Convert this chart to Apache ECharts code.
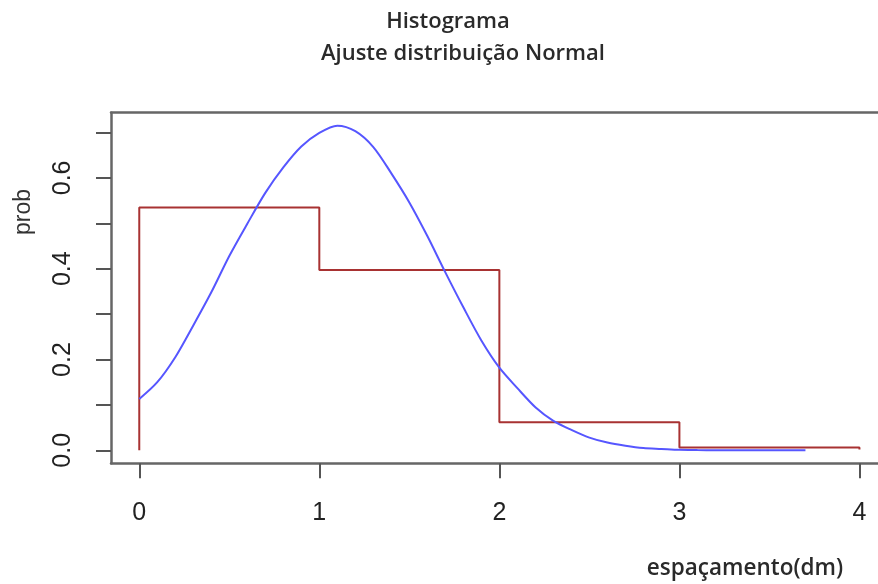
<!DOCTYPE html>
<html>
<head>
<meta charset="utf-8">
<script src="https://cdn.jsdelivr.net/npm/echarts@6/dist/echarts.min.js"></script>
<style>
  html, body { margin: 0; padding: 0; background: #ffffff; }
  #chart { width: 878px; height: 584px; }
</style>
</head>
<body>
<div id="chart"></div>
<script>
// Histogram class breaks (dm) and the density of each class
const breaks = [0, 1, 2, 3, 4];
const density = [0.535, 0.397, 0.062, 0.006];

// Fitted normal density curve, sampled along the spacing axis
const curveX = [0, 0.1, 0.2, 0.3, 0.4, 0.5, 0.6, 0.7, 0.8, 0.9, 1.0, 1.1, 1.2, 1.3, 1.4, 1.5,
                1.6, 1.7, 1.8, 1.9, 2.0, 2.1, 2.2, 2.3, 2.4, 2.5, 2.6, 2.7, 2.8, 2.9, 3.0,
                3.1, 3.2, 3.3, 3.4, 3.5, 3.6, 3.7];
const curveY = [0.113, 0.150, 0.205, 0.275, 0.348, 0.428, 0.499, 0.567, 0.623, 0.669, 0.699, 0.715,
                0.703, 0.668, 0.610, 0.546, 0.472, 0.392, 0.315, 0.242, 0.182, 0.137, 0.095, 0.065,
                0.045, 0.028, 0.017, 0.010, 0.005, 0.003, 0.001, 0.0005, 0.0002, 0.0001, 0, 0, 0, 0];

// Axis ticks and labels
const xTicks = [0, 1, 2, 3, 4];
const yTicks = [0, 0.1, 0.2, 0.3, 0.4, 0.5, 0.6, 0.7];
const yLabels = [0, 0.2, 0.4, 0.6];

// Step outline of the histogram built from the breaks and densities
const stepPts = [[breaks[0], 0]];
density.forEach((d, i) => {
  stepPts.push([breaks[i], d]);
  stepPts.push([breaks[i + 1], d]);
});
stepPts.push([breaks[breaks.length - 1], 0.002]);

const curvePts = curveX.map((x, i) => [x, curveY[i]]);

const labelFont = 'Liberation Sans, Arial, sans-serif';
const textFont = 'Open Sans, sans-serif';
const frame = { color: '#666', width: 2.5 };
const tickStyle = { color: '#555', width: 2 };

const chart = echarts.init(document.getElementById('chart'), null, { renderer: 'canvas' });
chart.setOption({
  animation: false,
  backgroundColor: '#ffffff',
  title: [
    { text: 'Histograma', left: 443, top: 6, textAlign: 'center',
      textStyle: { fontFamily: textFont, fontSize: 22, fontWeight: 600, color: '#2a2a2a' } },
    { text: 'Ajuste distribuição Normal', left: 458, top: 38, textAlign: 'center',
      textStyle: { fontFamily: textFont, fontSize: 22, fontWeight: 600, color: '#2a2a2a' } }
  ],
  graphic: [
    { type: 'text', x: 24, y: 212, rotation: Math.PI / 2,
      style: { text: 'prob', fontFamily: labelFont, fontSize: 23, fill: '#333',
               align: 'center', verticalAlign: 'middle' } },
    { type: 'text', x: 745, y: 569,
      style: { text: 'espaçamento(dm)', fontFamily: textFont, fontSize: 22.5, fontWeight: 600,
               fill: '#2a2a2a', align: 'center', verticalAlign: 'middle' } }
  ],
  grid: { left: 111, top: 112.7, right: 0, height: 350.6, show: false },
  xAxis: [
    {
      type: 'value', min: -0.157, max: 4.103, position: 'bottom',
      axisLine: { show: true, onZero: false, lineStyle: frame },
      splitLine: { show: false },
      axisTick: { show: true, customValues: xTicks, length: 15, inside: false, lineStyle: tickStyle },
      axisLabel: { customValues: xTicks, margin: 37, fontFamily: labelFont, fontSize: 25, color: '#222' }
    },
    {
      type: 'value', min: -0.157, max: 4.103, position: 'top',
      axisLine: { show: true, onZero: false, lineStyle: frame },
      splitLine: { show: false },
      axisTick: { show: false },
      axisLabel: { show: false }
    }
  ],
  yAxis: {
    type: 'value', min: -0.0286, max: 0.7436,
    axisLine: { show: true, onZero: false, lineStyle: frame },
    splitLine: { show: false },
    axisTick: { show: true, customValues: yTicks, length: 15, inside: false, lineStyle: tickStyle },
    axisLabel: { customValues: yLabels, margin: 35, rotate: 90, fontFamily: labelFont, fontSize: 25,
                 color: '#222', formatter: v => v.toFixed(1) }
  },
  series: [
    {
      type: 'line', name: 'histograma', data: stepPts, symbol: 'none',
      lineStyle: { color: '#a83232', width: 2 }, z: 2
    },
    {
      type: 'line', name: 'normal', data: curvePts, symbol: 'none', smooth: 0.3,
      lineStyle: { color: '#5656ff', width: 2 }, z: 3
    }
  ]
});
</script>
</body>
</html>
